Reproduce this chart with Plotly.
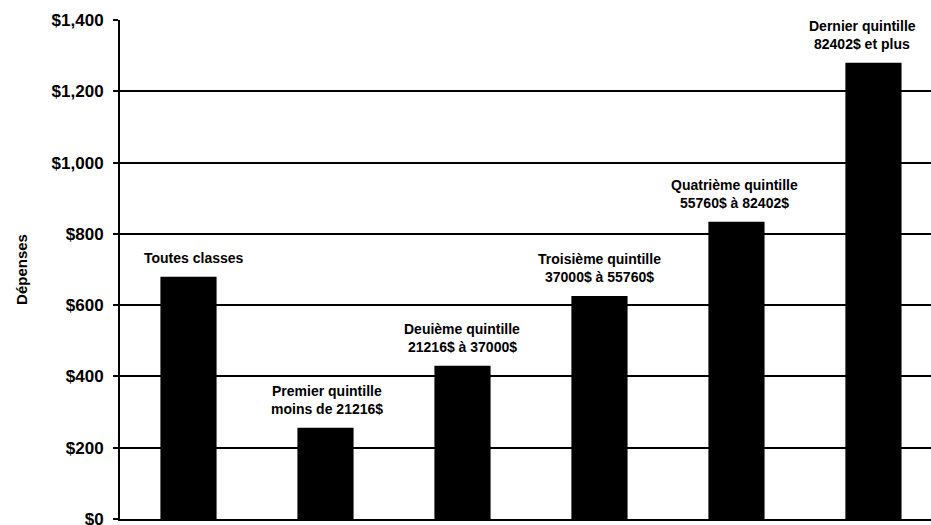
import plotly.graph_objects as go

categories = ["Toutes classes", "Premier quintille", "Deuième quintille",
              "Troisième quintille", "Quatrième quintille", "Dernier quintille"]
label_line1 = ["", "Premier quintille", "Deuième quintille",
               "Troisième quintille", "Quatrième quintille", "Dernier quintille"]
label_line2 = ["Toutes classes", "moins de 21216$", "21216$ à 37000$",
               "37000$ à 55760$", "55760$ à 82402$", "82402$ et plus"]
values = [680, 256, 430, 626, 834, 1280]
tick_vals = [0, 200, 400, 600, 800, 1000, 1200, 1400]
tick_text = ["$0", "$200", "$400", "$600", "$800", "$1,000", "$1,200", "$1,400"]

xs = list(range(len(categories)))
fig = go.Figure(go.Bar(x=xs, y=values, width=0.41, marker=dict(color="black", line=dict(width=0))))

lab_font = dict(family="Liberation Sans, Arial, sans-serif",
                size=14, color="black", weight="bold")
xshifts = [5, 2, 0, 0, -2, -11]
for i, (l1, l2, v) in enumerate(zip(label_line1, label_line2, values)):
    fig.add_annotation(x=xs[i], y=v, text=l2, showarrow=False, yanchor="bottom",
                       yshift=9, xshift=xshifts[i], font=lab_font)
    if l1:
        fig.add_annotation(x=xs[i], y=v, text=l1, showarrow=False, yanchor="bottom",
                           yshift=27, xshift=xshifts[i], font=lab_font)

fig.update_layout(
    width=931, height=525,
    margin=dict(l=120, r=0, t=20, b=6),
    plot_bgcolor="white", paper_bgcolor="white",
    showlegend=False,
    xaxis=dict(range=[-0.5, 5.42], showticklabels=False, ticks="", showgrid=False,
               zeroline=False, showline=True, linecolor="black", linewidth=2,
               automargin=False),
    yaxis=dict(range=[0, 1400], tickvals=tick_vals, ticktext=tick_text,
               showgrid=True, gridcolor="black", gridwidth=2,
               showline=True, linecolor="black", linewidth=2, zeroline=False,
               ticks="outside", ticklen=5, tickcolor="black", tickwidth=2,
               tickfont=dict(family="Liberation Sans, Arial, sans-serif", size=17,
                             color="black", weight="bold"),
               ticklabelstandoff=6, ticklabeloverflow="allow", automargin=False,
               title=dict(text="Dépenses", standoff=20,
                          font=dict(family="Liberation Sans, Arial, sans-serif", size=15,
                                    color="black", weight="bold"))),
)
fig.write_html("out.html")
